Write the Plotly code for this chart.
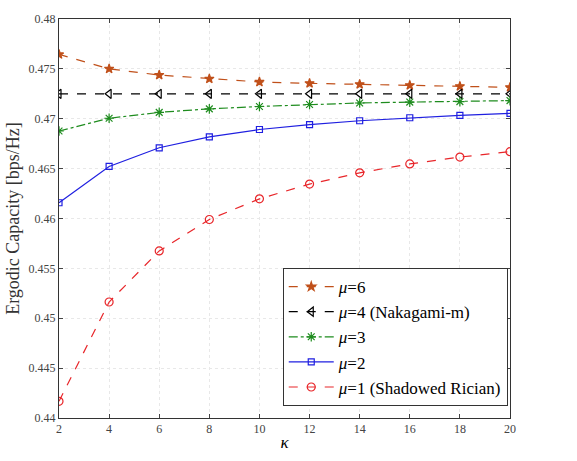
import plotly.graph_objects as go

kappa = [2, 4, 6, 8, 10, 12, 14, 16, 18, 20]
mu6 = [0.47645, 0.4750, 0.47438, 0.4740, 0.47369, 0.47355, 0.47345, 0.47335, 0.47325, 0.47315]
mu4 = [0.4725] * 10
mu3 = [0.46877, 0.47005, 0.47064, 0.47099, 0.47123, 0.47143, 0.47158, 0.47167, 0.47172, 0.47182]
mu2 = [0.46158, 0.46522, 0.46709, 0.46818, 0.46892, 0.46941, 0.4698, 0.4701, 0.47034, 0.47054]
mu1 = [0.44167, 0.45163, 0.45675, 0.4599, 0.46197, 0.46345, 0.46458, 0.46547, 0.46616, 0.4667]

yticks = [0.44, 0.445, 0.45, 0.455, 0.46, 0.465, 0.47, 0.475, 0.48]
ytext = ["0.44", "0.445", "0.45", "0.455", "0.46", "0.465", "0.47", "0.475", "0.48"]
xticks = [2, 4, 6, 8, 10, 12, 14, 16, 18, 20]

series = [
    ("<i>μ</i>=6", mu6, "#C0501A", "star", "dash", 7),
    ("<i>μ</i>=4 (Nakagami-m)", mu4, "black", "triangle-left-open", "dash", 8),
    ("<i>μ</i>=3", mu3, "#1E8C1E", "asterisk-open", "dashdot", 8),
    ("<i>μ</i>=2", mu2, "#1F1FE0", "square-open", "solid", 6),
    ("<i>μ</i>=1 (Shadowed Rician)", mu1, "#E8262A", "circle-open", "dash", 8),
]

SERIF = '"Liberation Serif", "Times New Roman", serif'

fig = go.Figure()
for name, ys, col, sym, dash, ms in series:
    fig.add_trace(go.Scatter(
        x=kappa, y=ys, name=name, mode="lines+markers",
        line=dict(color=col, width=1.2, dash=dash),
        marker=dict(symbol=sym, size=ms, color=col, line=dict(color=col, width=1.2)),
    ))

fig.update_layout(
    width=577, height=461,
    margin=dict(l=50, r=67, t=12, b=43),
    plot_bgcolor="white", paper_bgcolor="white",
    font=dict(family=SERIF, color="#444"),
    showlegend=True,
    legend=dict(
        x=0.995, y=0.03, xanchor="right", yanchor="bottom",
        bgcolor="white", bordercolor="#333", borderwidth=1,
        font=dict(size=17, color="black", family=SERIF),
        tracegroupgap=0, itemwidth=45,
    ),
)
fig.update_xaxes(
    range=[2, 20], tickvals=xticks, ticks="inside", ticklen=4,
    showline=True, linecolor="#333", linewidth=1, mirror="ticks",
    showgrid=True, gridcolor="#e8e8e8", griddash="dot", gridwidth=1,
    tickfont=dict(size=12, color="#444", family=SERIF),
    title=dict(text="<i>κ</i>", font=dict(size=17, color="black", family=SERIF), standoff=0),
    zeroline=False,
)
fig.update_yaxes(
    range=[0.44, 0.48], tickvals=yticks, ticktext=ytext, ticks="inside", ticklen=4,
    showline=True, linecolor="#333", linewidth=1, mirror="ticks",
    showgrid=True, gridcolor="#e8e8e8", griddash="dot", gridwidth=1,
    tickfont=dict(size=12, color="#444", family=SERIF),
    title=dict(text="Ergodic Capacity [bps/Hz]", font=dict(size=18, color="#333", family=SERIF), standoff=4),
    zeroline=False,
)

fig.write_html("out.html")
